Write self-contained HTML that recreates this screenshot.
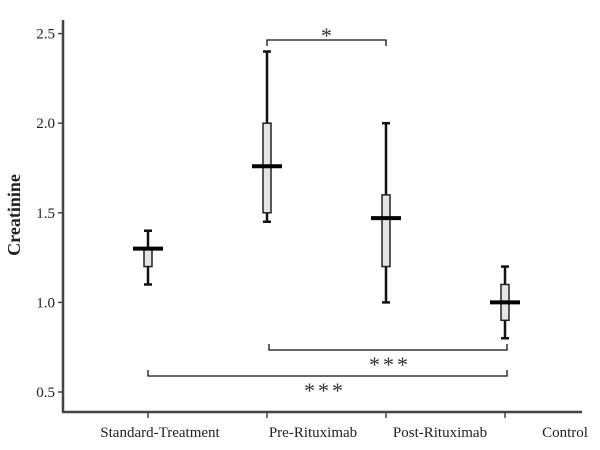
<!DOCTYPE html>
<html><head><meta charset="utf-8"><style>
body{margin:0;background:#fff}
svg{display:block;font-family:"Liberation Serif","DejaVu Serif",serif}
</style></head><body>
<svg width="600" height="450" viewBox="0 0 600 450">
<g id="axes"></g><g id="marks"></g><g id="annot"></g>
</svg>
<script>
const categories=["Standard-Treatment","Pre-Rituximab","Post-Rituximab","Control"];
const whiskerLow=[1.1,1.45,1.0,0.8];
const q1=[1.2,1.5,1.2,0.9];
const medians=[1.3,1.76,1.47,1.0];
const q3=[1.3,2.0,1.6,1.1];
const whiskerHigh=[1.4,2.4,2.0,1.2];
const yTicks=[0.5,1.0,1.5,2.0,2.5];
const yTickLabels=["0.5","1.0","1.5","2.0","2.5"];
const labelX=[160,313,440,565];

const NS="http://www.w3.org/2000/svg";
function y(v){return 392-(v-0.5)*179.2;}
function x(i){return 148+i*119;}
function mk(tag,attrs,parent,text){const e=document.createElementNS(NS,tag);for(const k in attrs)e.setAttribute(k,attrs[k]);if(text!=null)e.textContent=text;parent.appendChild(e);return e;}
const axes=document.getElementById('axes'),marks=document.getElementById('marks'),annot=document.getElementById('annot');

let a=mk('line',{x1:63,y1:20,x2:63,y2:413,stroke:'#444','stroke-width':2.5},axes);

a=mk('line',{x1:62,y1:412,x2:582,y2:412,stroke:'#444','stroke-width':2.5},axes);

yTicks.forEach((v,i)=>{
  const t=mk('line',{x1:58,y1:y(v),x2:63,y2:y(v),stroke:'#444','stroke-width':1.5},axes);
  
  const l=mk('text',{x:55,y:y(v)+5,'text-anchor':'end','font-size':15,fill:'#222'},axes,yTickLabels[i]);
  
});
let yt=mk('text',{x:0,y:0,'font-size':18,'font-weight':'bold','text-anchor':'middle',transform:'translate(20,215) rotate(-90)',fill:'#222'},axes,'Creatinine');

categories.forEach((c,i)=>{
  const t=mk('line',{x1:x(i),y1:412,x2:x(i),y2:418,stroke:'#444','stroke-width':1.5},axes);
  
  const l=mk('text',{x:labelX[i],y:437,'text-anchor':'middle','font-size':15,fill:'#222'},axes,c);
  
});
categories.forEach((c,i)=>{
  const g=mk('g',{},marks);
  
  
  const cx=x(i);
  mk('line',{x1:cx,y1:y(whiskerLow[i]),x2:cx,y2:y(whiskerHigh[i]),stroke:'#111','stroke-width':2.5},g);
  mk('line',{x1:cx-4,y1:y(whiskerLow[i]),x2:cx+4,y2:y(whiskerLow[i]),stroke:'#111','stroke-width':2.5},g);
  mk('line',{x1:cx-4,y1:y(whiskerHigh[i]),x2:cx+4,y2:y(whiskerHigh[i]),stroke:'#111','stroke-width':2.5},g);
  mk('rect',{x:cx-4,y:y(q3[i]),width:8,height:y(q1[i])-y(q3[i]),fill:'#e4e4e4',stroke:'#222','stroke-width':1.5},g);
  mk('line',{x1:cx-15,y1:y(medians[i]),x2:cx+15,y2:y(medians[i]),stroke:'#000','stroke-width':4},g);
});
function bracket(x1,x2,yy,dir,label,lx,ly,name){
  const g=mk('g',{},annot);
  
  mk('path',{d:`M${x1},${yy+dir*6}V${yy}H${x2}V${yy+dir*6}`,fill:'none',stroke:'#111','stroke-width':1.3},g);
  mk('text',{x:lx,y:ly,'text-anchor':'middle','font-size':22,fill:'#333','letter-spacing':'3'},g,label);
}
bracket(267,386,40,1,'*',328,43,'sig-bracket-pre-post');
bracket(269,507,350,-1,'***',390,372,'sig-bracket-pre-control');
bracket(148,507,376,-1,'***',325,398,'sig-bracket-standard-control');
</script>
</body></html>
